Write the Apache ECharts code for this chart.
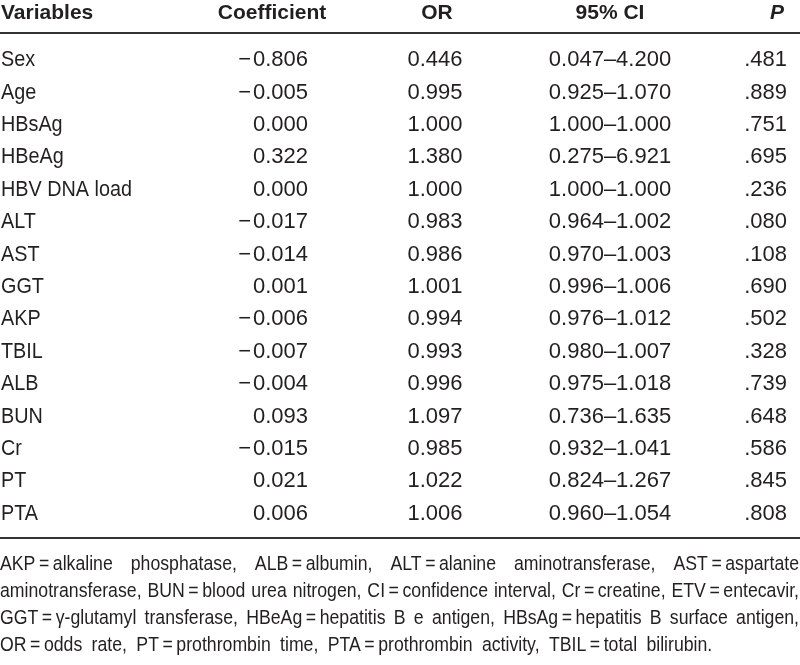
<!DOCTYPE html>
<html>
<head>
<meta charset="utf-8">
<script src="https://cdn.jsdelivr.net/npm/echarts@6/dist/echarts.min.js"></script>
<style>html,body{margin:0;padding:0;background:#fff;}#chart{width:800px;height:665px;}</style>
</head>
<body>
<div id="chart"></div>
<script>
const headers = ['Variables', 'Coefficient', 'OR', '95% CI', 'P'];
const variables = ['Sex', 'Age', 'HBsAg', 'HBeAg', 'HBV DNA load', 'ALT', 'AST', 'GGT', 'AKP', 'TBIL', 'ALB', 'BUN', 'Cr', 'PT', 'PTA'];
const coefficients = [-0.806, -0.005, 0.000, 0.322, 0.000, -0.017, -0.014, 0.001, -0.006, -0.007, -0.004, 0.093, -0.015, 0.021, 0.006];
const oddsRatios = [0.446, 0.995, 1.000, 1.380, 1.000, 0.983, 0.986, 1.001, 0.994, 0.993, 0.996, 1.097, 0.985, 1.022, 1.006];
const ciLower = [0.047, 0.925, 1.000, 0.275, 1.000, 0.964, 0.970, 0.996, 0.976, 0.980, 0.975, 0.736, 0.932, 0.824, 0.960];
const ciUpper = [4.200, 1.070, 1.000, 6.921, 1.000, 1.002, 1.003, 1.006, 1.012, 1.007, 1.018, 1.635, 1.041, 1.267, 1.054];
const pValues = [0.481, 0.889, 0.751, 0.695, 0.236, 0.080, 0.108, 0.690, 0.502, 0.328, 0.739, 0.648, 0.586, 0.845, 0.808];
const footnoteLines = [
  'AKP\u2009=\u2009alkaline phosphatase, ALB\u2009=\u2009albumin, ALT\u2009=\u2009alanine aminotransferase, AST\u2009=\u2009aspartate',
  'aminotransferase, BUN\u2009=\u2009blood urea nitrogen, CI\u2009=\u2009confidence interval, Cr\u2009=\u2009creatine, ETV\u2009=\u2009entecavir,',
  'GGT\u2009=\u2009\u03b3-glutamyl transferase, HBeAg\u2009=\u2009hepatitis B e antigen, HBsAg\u2009=\u2009hepatitis B surface antigen,',
  'OR\u2009=\u2009odds rate, PT\u2009=\u2009prothrombin time, PTA\u2009=\u2009prothrombin activity, TBIL\u2009=\u2009total bilirubin.'
];

const TEXT = '#231f20';
const FAMILY = '"Liberation Sans", Arial, sans-serif';
const BODY_FONT = '22px ' + FAMILY;
const HEAD_FONT = 'bold 21px ' + FAMILY;
const HEAD_FONT_I = 'italic bold 21px ' + FAMILY;
const FOOT_FONT = '20.5px ' + FAMILY;

function fmtCoef(v) { return (v < 0 ? '\u2212\u200a' : '') + Math.abs(v).toFixed(3); }
function fmtP(v) { return '.' + v.toFixed(3).split('.')[1]; }

const measureCtx = document.createElement('canvas').getContext('2d');
function textWidth(t, font) { measureCtx.font = font; return measureCtx.measureText(t).width; }

const columns = [
  { x: 1, align: 'left', sx: 0.9, values: variables, fmt: v => v },
  { x: 308, align: 'right', sx: 1, values: coefficients, fmt: fmtCoef },
  { x: 435, align: 'center', sx: 1, values: oddsRatios, fmt: v => v.toFixed(3) },
  { x: 610, align: 'center', sx: 1, values: ciLower, fmt: (v, i) => v.toFixed(3) + '\u2013' + ciUpper[i].toFixed(3) },
  { x: 787, align: 'right', sx: 1, values: pValues, fmt: fmtP }
];

const series = columns.map((col) => ({
  type: 'custom',
  coordinateSystem: 'cartesian2d',
  silent: true,
  data: col.values.map((v, i) => [col.x, i]),
  encode: { x: 0, y: 1 },
  renderItem: function (params, api) {
    const i = params.dataIndex;
    const p = api.coord([api.value(0), api.value(1)]);
    return {
      type: 'text',
      x: p[0], y: p[1],
      scaleX: col.sx,
      style: {
        text: col.fmt(col.values[i], i),
        font: BODY_FONT,
        fill: TEXT,
        align: col.align,
        verticalAlign: 'middle'
      }
    };
  }
}));

const headerPos = [
  { x: 1, align: 'left', font: HEAD_FONT },
  { x: 272, align: 'center', font: HEAD_FONT },
  { x: 437, align: 'center', font: HEAD_FONT },
  { x: 610, align: 'center', font: HEAD_FONT },
  { x: 784, align: 'right', font: HEAD_FONT_I }
];
const graphics = headers.map((h, i) => ({
  type: 'text', x: headerPos[i].x, y: 13, silent: true,
  style: { text: h, font: headerPos[i].font, fill: TEXT, align: headerPos[i].align, verticalAlign: 'middle' }
}));
graphics.push({ type: 'line', silent: true, shape: { x1: 0, y1: 33, x2: 800, y2: 33 }, style: { stroke: '#333', lineWidth: 2 } });
graphics.push({ type: 'line', silent: true, shape: { x1: 0, y1: 538, x2: 800, y2: 538 }, style: { stroke: '#333', lineWidth: 2 } });

// footnote: condensed, justified except the last line
const FOOT_W = 799;
const spaceNat = textWidth(' ', FOOT_FONT);
let footScale = 0.9;
footnoteLines.slice(0, -1).forEach(line => {
  const words = line.split(' ');
  const sum = words.reduce((a, w) => a + textWidth(w, FOOT_FONT), 0);
  const s = FOOT_W / (sum + spaceNat * 1.2 * (words.length - 1));
  if (s < footScale) footScale = s;
});
const footY = [564, 591, 618, 645];
footnoteLines.forEach((line, li) => {
  const words = line.split(' ');
  const widths = words.map(w => textWidth(w, FOOT_FONT) * footScale);
  const total = widths.reduce((a, b) => a + b, 0);
  const justify = li < footnoteLines.length - 1;
  const gap = justify ? (FOOT_W - total) / (words.length - 1) : spaceNat * footScale * 1.9;
  let x = 0;
  words.forEach((w, wi) => {
    graphics.push({ type: 'text', x: x, y: footY[li], scaleX: footScale, silent: true,
      style: { text: w, font: FOOT_FONT, fill: TEXT, align: 'left', verticalAlign: 'middle' } });
    x += widths[wi] + gap;
  });
});

const chart = echarts.init(document.getElementById('chart'), null, { renderer: 'canvas' });
chart.setOption({
  animation: false,
  backgroundColor: '#ffffff',
  grid: { left: 0, right: 0, top: 44, height: 486 },
  xAxis: { type: 'value', min: 0, max: 800, show: false },
  yAxis: { type: 'category', data: variables, inverse: true, show: false },
  series: series,
  graphic: graphics
});
</script>
</body>
</html>
